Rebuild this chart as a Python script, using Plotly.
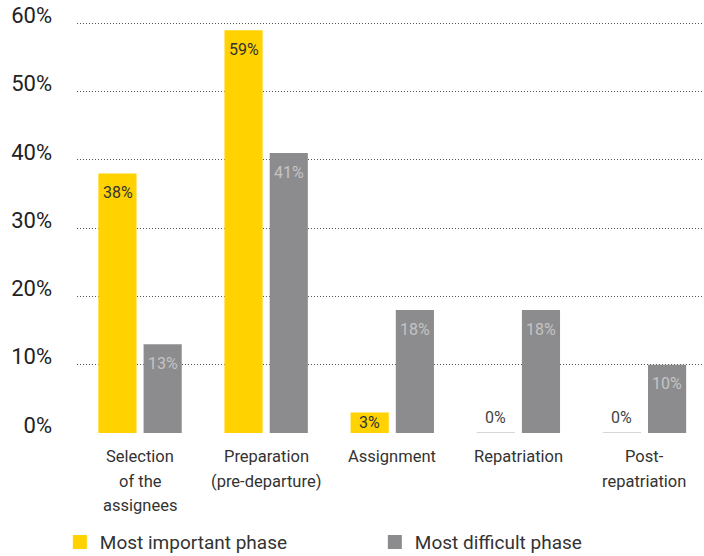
import plotly.graph_objects as go

# Phases of the international assignment cycle
categories = [
    "Selection<br>of the<br>assignees",
    "Preparation<br>(pre-departure)",
    "Assignment",
    "Repatriation",
    "Post-<br>repatriation",
]
important = [38, 59, 3, 0, 0]
difficult = [13, 41, 18, 18, 10]
series_names = ["Most important phase", "Most difficult phase"]
tick_values = [0, 10, 20, 30, 40, 50, 60]
tick_labels = ["0%", "10%", "20%", "30%", "40%", "50%", "60%"]

YELLOW = "#FFD200"
GREY = "#8C8C8E"
FONT = "Roboto, 'Noto Sans', Arial, sans-serif"

fig = go.Figure()
for name, vals, color in [
    (series_names[0], important, YELLOW),
    (series_names[1], difficult, GREY),
]:
    fig.add_trace(go.Bar(
        x=categories, y=vals, name=name,
        marker=dict(color=color,
                    line=dict(color=["#C8C8C8" if v == 0 else color for v in vals],
                              width=[1 if v == 0 else 0 for v in vals])),
        hoverinfo="skip",
    ))

annotations = []

# value labels: inside the top of each bar, above the baseline for zero values
for vals, shift, col in [(important, -22.5, "#333333"), (difficult, 22.5, "#C4C4C4")]:
    for cat, v in zip(categories, vals):
        if v == 0:
            yshift, c = 16, "#444444"
        elif v < 5:
            yshift, c = -10, col
        else:
            yshift, c = -19, col
        annotations.append(dict(
            x=cat, y=v, xref="x", yref="y", text=f"{v}%", showarrow=False,
            xshift=shift, yshift=yshift,
            font=dict(family=FONT, size=16, color=c),
        ))

# category names below the axis, with a looser line spacing than tick labels
for cat in categories:
    for i, line in enumerate(cat.split("<br>")):
        annotations.append(dict(
            x=cat, y=0, xref="x", yref="y", text=line, showarrow=False,
            yanchor="top", yshift=-12 - 24.5 * i,
            font=dict(family=FONT, size=16.5, color="#333333"),
        ))

fig.update_layout(
    width=704, height=556,
    margin=dict(l=77, r=0, t=22, b=123, autoexpand=False),
    paper_bgcolor="white", plot_bgcolor="white",
    barmode="group", bargap=0.283, bargroupgap=0.156,
    font=dict(family=FONT, color="#333333"),
    annotations=annotations,
    showlegend=True,
    legend=dict(
        orientation="h", xref="container", x=0.085, xanchor="left",
        yref="container", y=0.025, yanchor="middle",
        font=dict(family=FONT, size=19, color="#333333"),
        entrywidth=270, entrywidthmode="pixels",
        itemsizing="constant", traceorder="normal",
    ),
    xaxis=dict(
        type="category", range=[-0.5, 4.472], automargin=False,
        showgrid=False, zeroline=False, showline=False, ticks="",
        showticklabels=False,
    ),
    yaxis=dict(
        range=[0, 60.2], tickvals=tick_values, ticktext=tick_labels,
        automargin=False,
        showgrid=True, gridcolor="#555555", gridwidth=1, griddash="1px,2px",
        zeroline=False, showline=False, ticks="",
        tickfont=dict(family=FONT, size=22, color="#222222"),
        ticklabelstandoff=24, ticklabelshift=-8,
    ),
)

fig.write_html("out.html")
